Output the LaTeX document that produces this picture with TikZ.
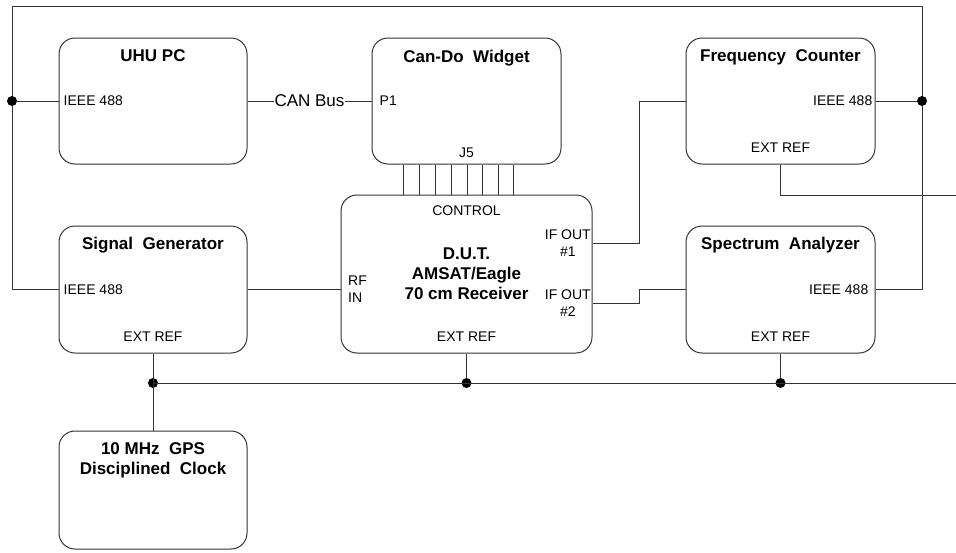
\documentclass[tikz,border=0pt]{standalone}
\usepackage{fontspec}
\setmainfont{Liberation Sans}
\usetikzlibrary{positioning,calc}
\tikzset{
  unit/.style={draw=black!80,line width=1pt,rounded corners=16pt,inner sep=0pt},
  ttl/.style={font=\fontsize{17}{20}\selectfont\bfseries,align=center,inner sep=0pt},
  port/.style={font=\fontsize{14}{17}\selectfont,inner sep=0pt},
  buslbl/.style={font=\fontsize{17}{20}\selectfont,fill=white,inner sep=0.5pt},
  wire/.style={draw=black!80,line width=1pt},
  jn/.style={circle,fill=black,inner sep=0pt,minimum size=10pt},
}
\begin{document}
\begin{tikzpicture}[x=1pt,y=-1pt]
  \useasboundingbox (0,0) rectangle (956,552);
  % boxes
  \node[unit,minimum width=188pt,minimum height=126pt] (uhu) at (153,101) {};
  \node[unit,minimum width=189pt,minimum height=126pt] (cando) at (466.5,101) {};
  \node[unit,minimum width=189pt,minimum height=126pt] (freq) at (780.5,101) {};
  \node[unit,minimum width=188pt,minimum height=127pt] (siggen) at (153,289.5) {};
  \node[unit,minimum width=251pt,minimum height=158pt] (dut) at (466.5,274) {};
  \node[unit,minimum width=189pt,minimum height=127pt] (spec) at (780.5,289.5) {};
  \node[unit,minimum width=188pt,minimum height=118pt] (gps) at (153,490) {};
  % texts
  \node[ttl,below=12pt of uhu.north] (uhut) {UHU PC};
  \node[port,right=5pt of uhu.west] (uhuport) {IEEE 488};
  \node[ttl,below=12pt of cando.north] (candot) {Can-Do\ \ Widget};
  \node[port,right=8pt of cando.west] (p1) {P1};
  \node[port,above=7pt of cando.south] (j5) {J5};
  \node[ttl,below=12pt of freq.north] (freqt) {Frequency\ \ Counter};
  \node[port,left=3pt of freq.east] (freqport) {IEEE 488};
  \node[port,above=12pt of freq.south] (freqref) {EXT REF};
  \node[ttl,below=11pt of siggen.north] (siggent) {Signal\ \ Generator};
  \node[port,right=5pt of siggen.west] (sigport) {IEEE 488};
  \node[port,above=12pt of siggen.south] (sigref) {EXT REF};
  \node[port,below=11pt of dut.north] (ctrl) {CONTROL};
  \node[ttl] (dutt) at (dut) {D.U.T.\\AMSAT/Eagle\\70 cm Receiver};
  \node[port,anchor=west,align=left] (rfin) at (348,289) {RF\\IN};
  \node[port,anchor=east,align=center] (ifa) at (591,243) {IF OUT\\\#1};
  \node[port,anchor=east,align=center] (ifb) at (591,303) {IF OUT\\\#2};
  \node[port,above=12pt of dut.south] (dutref) {EXT REF};
  \node[ttl,below=11pt of spec.north] (spect) {Spectrum\ \ Analyzer};
  \node[port,left=7pt of spec.east] (specport) {IEEE 488};
  \node[port,above=12pt of spec.south] (specref) {EXT REF};
  \node[ttl,below=12pt of gps.north] (gpst) {10 MHz\ \ GPS\\Disciplined\ \ Clock};
  % IEEE 488 bus
  \coordinate (tl) at (12,6);
  \coordinate (tr) at (922,6);
  \draw[wire] (siggen.west) -| (tl) -- (tr) |- (spec.east);
  \node[jn] (jl) at (tl |- uhu.west) {};
  \node[jn] (jr) at (tr |- freq.east) {};
  \draw[wire] (uhu.west) -- (jl);
  \draw[wire] (freq.east) -- (jr);
  % CAN bus and control lines
  \draw[wire] (uhu.east) -- node[buslbl] (can) {CAN Bus} (cando.west);
  \foreach \x in {403,419,435,451,467,482,498,513}
    \draw[wire] (cando.south -| \x,0) -- (dut.north -| \x,0);
  % signal path
  \draw[wire] (siggen.east) -- (siggen.east -| dut.west);
  \coordinate (jog) at (639,0);
  \draw[wire] (dut.east |- ifa) -| (jog |- freq.west) -- (freq.west);
  \draw[wire] (dut.east |- ifb) -| (jog |- spec.west) -- (spec.west);
  % 10 MHz reference
  \coordinate (frqend) at (956,195);
  \coordinate (refend) at (956,383);
  \draw[wire] (freq.south) |- (frqend);
  \node[jn] (js) at (siggen.south |- refend) {};
  \node[jn] (jd) at (dut.south |- refend) {};
  \node[jn] (jsa) at (spec.south |- refend) {};
  \draw[wire] (siggen.south) -- (gps.north);
  \draw[wire] (js.center) -- (refend);
  \draw[wire] (dut.south) -- (jd);
  \draw[wire] (spec.south) -- (jsa);
\end{tikzpicture}
\end{document}
